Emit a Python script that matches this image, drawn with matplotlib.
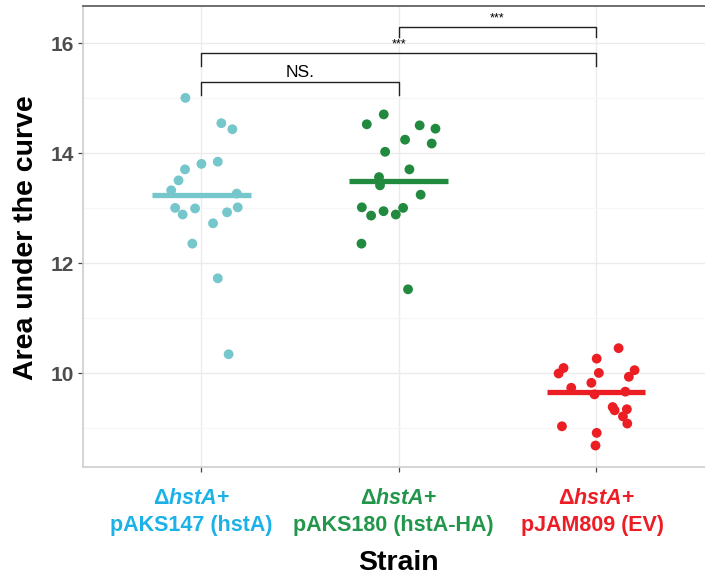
import numpy as np
import matplotlib
matplotlib.use('Agg')
import matplotlib.pyplot as plt
from matplotlib.ticker import MultipleLocator

# Data
strains = ['pAKS147 (hstA)', 'pAKS180 (hstA-HA)', 'pJAM809 (EV)']
label_colors = ['#1CB2E8', '#22964A', '#EE1D25']
point_colors = ['#75C7CC', '#228A3E', '#EB1E24']

auc_147 = [15.01, 14.55, 14.44, 13.85, 13.81, 13.71, 13.51, 13.33, 13.27,
           13.01, 13.00, 13.02, 12.89, 12.93, 12.73, 12.36, 11.73, 10.35]
jit_147 = [-0.081, 0.101, 0.157, 0.083, 0.0, -0.083, -0.116, -0.153, 0.179,
           -0.133, -0.032, 0.184, -0.095, 0.130, 0.059, -0.046, 0.083, 0.138]

auc_180 = [14.71, 14.53, 14.51, 14.45, 14.25, 14.18, 14.03, 13.71, 13.57,
           13.42, 13.25, 13.02, 13.01, 12.87, 12.95, 12.89, 12.36, 11.53]
jit_180 = [-0.076, -0.162, 0.106, 0.186, 0.032, 0.167, -0.069, 0.054, -0.100,
           -0.095, 0.111, -0.187, 0.022, -0.140, -0.077, -0.015, -0.189, 0.047]

auc_809 = [10.46, 10.27, 10.10, 10.00, 10.06, 9.94, 10.01, 9.83, 9.74, 9.62,
           9.67, 9.39, 9.33, 9.35, 9.22, 9.09, 9.04, 8.92, 8.69]
jit_809 = [0.114, 0.003, -0.165, -0.190, 0.195, 0.166, 0.014, -0.024, -0.126,
           -0.008, 0.148, 0.084, 0.094, 0.156, 0.136, 0.158, -0.173, 0.003, -0.003]

centre_lines = [13.25, 13.49, 9.66]

# comparisons: (group a, group b, label)
comparisons = [(0, 1, 'NS.'), (0, 2, '***'), (1, 2, '***')]

plt.rcParams['font.family'] = ['Liberation Sans', 'DejaVu Sans']
plt.rcParams['mathtext.fontset'] = 'custom'
plt.rcParams['mathtext.rm'] = 'Liberation Sans:bold'
plt.rcParams['mathtext.bf'] = 'Liberation Sans:bold'
plt.rcParams['mathtext.it'] = 'Liberation Sans:italic:bold'

fig = plt.figure(figsize=(7.05, 5.79), dpi=100)
W, H = 705, 579
ax = fig.add_axes([83 / W, (H - 467) / H, (714.5 - 83) / W, (467 - 6) / H])

ax.set_xlim(-0.6, 2.6)
ax.set_ylim(8.30, 16.68)

# grid like theme_bw
ax.set_yticks([10, 12, 14, 16])
ax.yaxis.set_minor_locator(MultipleLocator(1))
ax.set_xticks([0, 1, 2])
ax.grid(which='major', color='#EBEBEB', lw=1.0, zorder=0)
ax.grid(which='minor', axis='y', color='#F6F6F6', lw=0.8, zorder=0)
ax.set_axisbelow(True)
ax.tick_params(which='minor', length=0)
ax.tick_params(which='major', length=3.8, width=0.9, color='#444444')
ax.tick_params(axis='y', labelsize=15, labelcolor='#4D4D4D', pad=3)
for lab in ax.get_yticklabels():
    lab.set_fontweight('bold')
ax.set_xticklabels([])

ax.spines['right'].set_visible(False)
ax.spines['top'].set_color('#555555')
ax.spines['top'].set_linewidth(1.2)
for side in ['left', 'bottom']:
    ax.spines[side].set_color('#CDCDCD')
    ax.spines[side].set_linewidth(1.2)

groups = [(auc_147, jit_147), (auc_180, jit_180), (auc_809, jit_809)]
for i, (vals, jit) in enumerate(groups):
    xs = i + np.array(jit)
    ax.scatter(xs, vals, s=50, color=point_colors[i], edgecolors='none', zorder=3)
    ax.plot([i - 0.25, i + 0.25], [centre_lines[i]] * 2, color=point_colors[i],
            lw=3.8, solid_capstyle='butt', zorder=4)

# significance brackets
bracket_y = {(0, 1): 15.30, (0, 2): 15.83, (1, 2): 16.30}
leg = {(0, 1): 0.23, (0, 2): 0.24, (1, 2): 0.18}
for a, b, txt in comparisons:
    y = bracket_y[(a, b)]
    d = leg[(a, b)]
    ax.plot([a, a, b, b], [y - d, y, y, y - d], color='#222222', lw=1.0, zorder=5)
    if txt == 'NS.':
        ax.text((a + b) / 2, y + 0.04, txt, ha='center', va='bottom', fontsize=12.5, zorder=6)
    else:
        ax.text((a + b) / 2, y + 0.04, txt, ha='center', va='bottom', fontsize=9, zorder=6)

# x tick labels (two lines each), small pixel nudges as in the original
nudge1 = [-10, 0, 0]
nudge2 = [-10, -5, -4]
for i, name in enumerate(strains):
    xpx = ax.transData.transform((i, 0))[0]
    fig.text((xpx + nudge1[i]) / W, 1 - 499 / H, r'$\mathrm{Δ}\mathit{hstA}$+',
             color=label_colors[i], fontsize=15.5, fontweight='bold',
             ha='center', va='center')
    fig.text((xpx + nudge2[i]) / W, 1 - 526 / H, name, color=label_colors[i],
             fontsize=15.5, fontweight='bold', ha='center', va='center')

fig.text(26 / W, 1 - 238 / H, 'Area under the curve', rotation=90, fontsize=20.5,
         fontweight='bold', ha='center', va='center')
fig.text(398 / W, 1 - 563 / H, 'Strain', fontsize=20.5, fontweight='bold',
         ha='center', va='center')

fig.savefig('out.png', dpi=100)
